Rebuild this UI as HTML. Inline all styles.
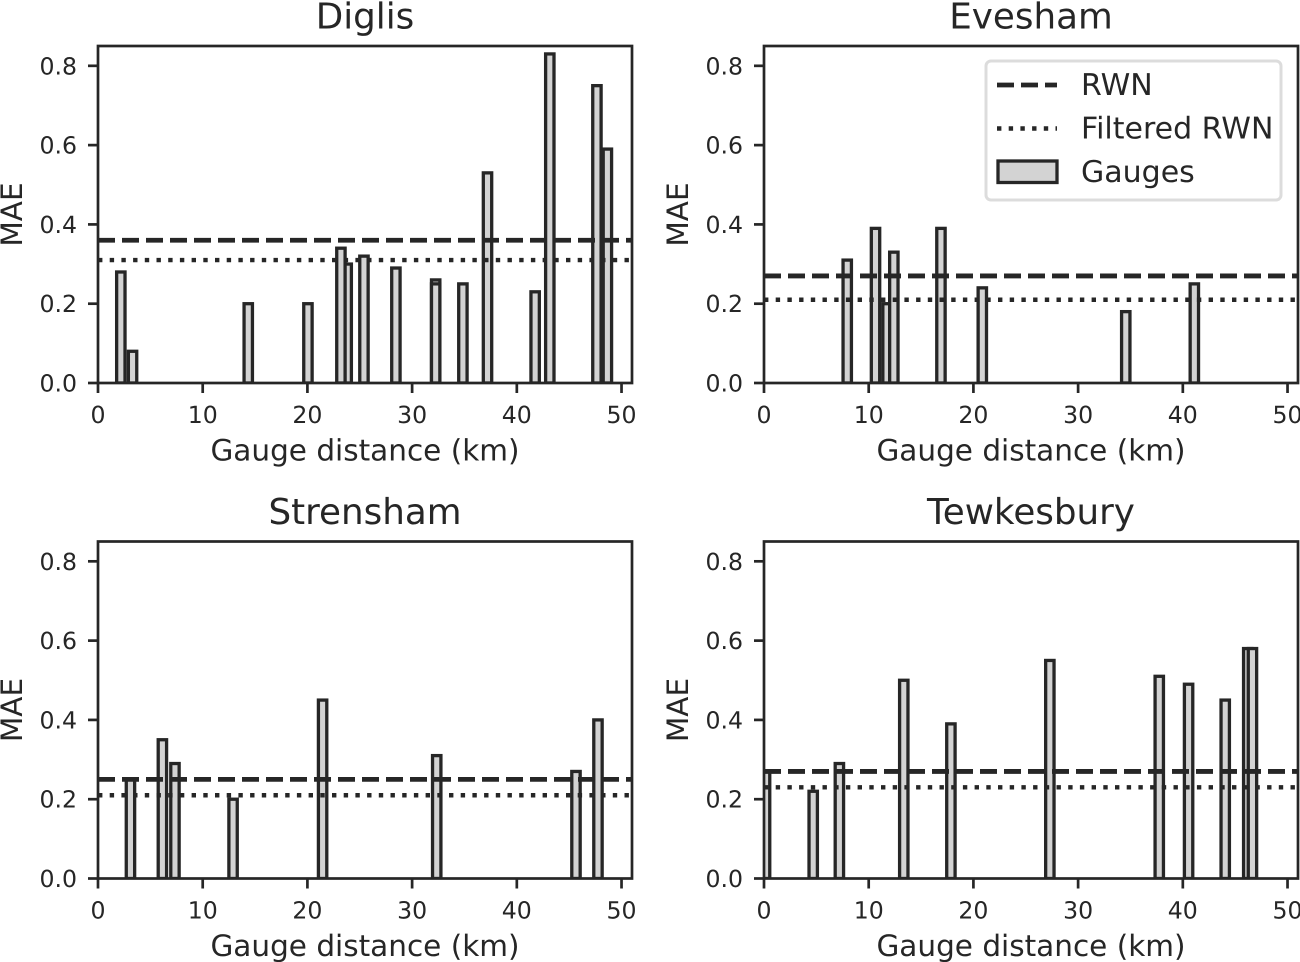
<!DOCTYPE html>
<html lang="en">
<head>
<meta charset="utf-8">
<title>Gauge distance vs MAE</title>
<style>
html,body{margin:0;padding:0;background:#fff;}
body{width:1300px;height:962px;overflow:hidden;}
svg{display:block;}
text{font-family:"DejaVu Sans","Liberation Sans",sans-serif;fill:#262626;text-rendering:geometricPrecision;}
</style>
</head>
<body>
<svg id="figure" width="1300" height="962" viewBox="0 0 1300 962" xmlns="http://www.w3.org/2000/svg"></svg>
<script>
// ---- Data ----
const stationNames = ["Diglis", "Evesham", "Strensham", "Tewkesbury"];
const xTickValues = [0, 10, 20, 30, 40, 50];
const yTickValues = [0.0, 0.2, 0.4, 0.6, 0.8];
const xAxisLabel = "Gauge distance (km)";
const yAxisLabel = "MAE";
const legendLabels = ["RWN", "Filtered RWN", "Gauges"];

const rwnValues = [0.36, 0.27, 0.25, 0.27];
const filteredRwnValues = [0.31, 0.21, 0.21, 0.23];

const diglisDistances = [2.18, 3.3, 14.35, 20.05, 23.8, 23.2, 25.4, 28.45, 32.25, 32.25, 34.85, 37.2, 41.75, 43.15, 47.65, 48.65];
const diglisMae = [0.28, 0.08, 0.20, 0.20, 0.30, 0.34, 0.32, 0.29, 0.26, 0.25, 0.25, 0.53, 0.23, 0.83, 0.75, 0.59];

const eveshamDistances = [7.95, 10.65, 11.75, 12.4, 16.9, 20.85, 34.55, 41.1];
const eveshamMae = [0.31, 0.39, 0.20, 0.33, 0.39, 0.24, 0.18, 0.25];

const strenshamDistances = [3.1, 6.15, 7.35, 12.9, 21.45, 32.35, 45.65, 47.75];
const strenshamMae = [0.25, 0.35, 0.29, 0.20, 0.45, 0.31, 0.27, 0.40];

const tewkesburyDistances = [0.15, 4.7, 7.2, 13.35, 17.85, 27.3, 37.75, 40.55, 44.05, 46.2, 46.65];
const tewkesburyMae = [0.27, 0.22, 0.29, 0.50, 0.39, 0.55, 0.51, 0.49, 0.45, 0.58, 0.58];

const stationDistances = [diglisDistances, eveshamDistances, strenshamDistances, tewkesburyDistances];
const stationMae = [diglisMae, eveshamMae, strenshamMae, tewkesburyMae];

const barWidthKm = 0.8;
const xMax = 51;
const yMax = 0.85;

// ---- Layout ----
const NS = "http://www.w3.org/2000/svg";
const INK = "#262626";
const fig = document.getElementById("figure");
const panelLefts = [98, 764, 98, 764];
const panelTops = [46, 46, 541.5, 541.5];
const panelW = 534;
const panelH = 337;

function make(parent, tag, attrs, txt) {
  const e = document.createElementNS(NS, tag);
  for (const k in attrs) e.setAttribute(k, attrs[k]);
  if (txt !== undefined) e.textContent = txt;
  parent.appendChild(e);
  return e;
}

stationNames.forEach(function (name, p) {
  const left = panelLefts[p], top = panelTops[p];
  const slug = name.toLowerCase();
  const xScale = function (v) { return left + v / xMax * panelW; };
  const yScale = function (v) { return top + panelH - v / yMax * panelH; };

  const g = make(fig, "g", {});
  
  

  const clip = make(g, "clipPath", { id: "clip-" + p });
  make(clip, "rect", { x: left, y: top, width: panelW, height: panelH });

  const barsG = make(g, "g", { "clip-path": "url(#clip-" + p + ")" });
  
  
  stationDistances[p].forEach(function (d, i) {
    const x0 = xScale(d - barWidthKm / 2);
    const x1 = xScale(d + barWidthKm / 2);
    const yT = yScale(stationMae[p][i]);
    const bar = make(barsG, "rect", {
      x: x0, y: yT, width: x1 - x0, height: yScale(0) - yT,
      fill: "#d3d3d3", stroke: INK, "stroke-width": 3.3
    });
    
    
  });

  const rwnLine = make(g, "line", {
    x1: left, x2: left + panelW, y1: yScale(rwnValues[p]), y2: yScale(rwnValues[p]),
    stroke: INK, "stroke-width": 4.8, "stroke-dasharray": "17 7"
  });
  
  

  const filteredLine = make(g, "line", {
    x1: left, x2: left + panelW, y1: yScale(filteredRwnValues[p]), y2: yScale(filteredRwnValues[p]),
    stroke: INK, "stroke-width": 4.4, "stroke-dasharray": "4.4 7.3"
  });
  
  

  const frame = make(g, "rect", {
    x: left, y: top, width: panelW, height: panelH,
    fill: "none", stroke: INK, "stroke-width": 2.7
  });
  
  

  xTickValues.forEach(function (v) {
    const x = xScale(v);
    const tick = make(g, "line", {
      x1: x, x2: x, y1: top + panelH, y2: top + panelH + 10,
      stroke: INK, "stroke-width": 2.7
    });
    
    
    const label = make(g, "text", {
      x: x, y: top + panelH + 40, "text-anchor": "middle", "font-size": 23.6
    }, String(v));
    
    
  });

  yTickValues.forEach(function (v) {
    const y = yScale(v);
    const tick = make(g, "line", {
      x1: left - 10, x2: left, y1: y, y2: y,
      stroke: INK, "stroke-width": 2.7
    });
    
    
    const label = make(g, "text", {
      x: left - 21, y: y + 8.5, "text-anchor": "end", "font-size": 23.6
    }, v.toFixed(1));
    
    
  });

  const title = make(g, "text", {
    x: left + panelW / 2, y: top - 17.5, "text-anchor": "middle", "font-size": 35.7
  }, name);
  
  

  const xTitle = make(g, "text", {
    x: left + panelW / 2, y: top + panelH + 77.5, "text-anchor": "middle", "font-size": 29.5
  }, xAxisLabel);
  
  

  const yTitle = make(g, "text", {
    x: 0, y: 0, "text-anchor": "middle", "font-size": 29.5,
    transform: "translate(" + (left - 76) + "," + (top + panelH / 2) + ") rotate(-90)"
  }, yAxisLabel);
  
  
});

// ---- Legend (Evesham panel) ----
const legend = make(fig, "g", {});



const legendBox = make(legend, "rect", {
  x: 986, y: 61, width: 295, height: 139, rx: 5, ry: 5,
  fill: "#fff", stroke: "#dcdcdc", "stroke-width": 3
});



const legendRwnKey = make(legend, "line", {
  x1: 997, x2: 1057, y1: 85, y2: 85, stroke: INK, "stroke-width": 4.8, "stroke-dasharray": "17 7"
});



const legendFilteredKey = make(legend, "line", {
  x1: 997, x2: 1057, y1: 128.5, y2: 128.5, stroke: INK, "stroke-width": 4.4, "stroke-dasharray": "4.4 7.3"
});



const legendGaugesKey = make(legend, "rect", {
  x: 998, y: 161, width: 59, height: 21.5, fill: "#d3d3d3", stroke: INK, "stroke-width": 3.3
});



const legendBaselines = [95, 138.5, 182];
legendLabels.forEach(function (txt, i) {
  const t = make(legend, "text", { x: 1081, y: legendBaselines[i], "font-size": 30 }, txt);
  
  
});
</script>
</body>
</html>
